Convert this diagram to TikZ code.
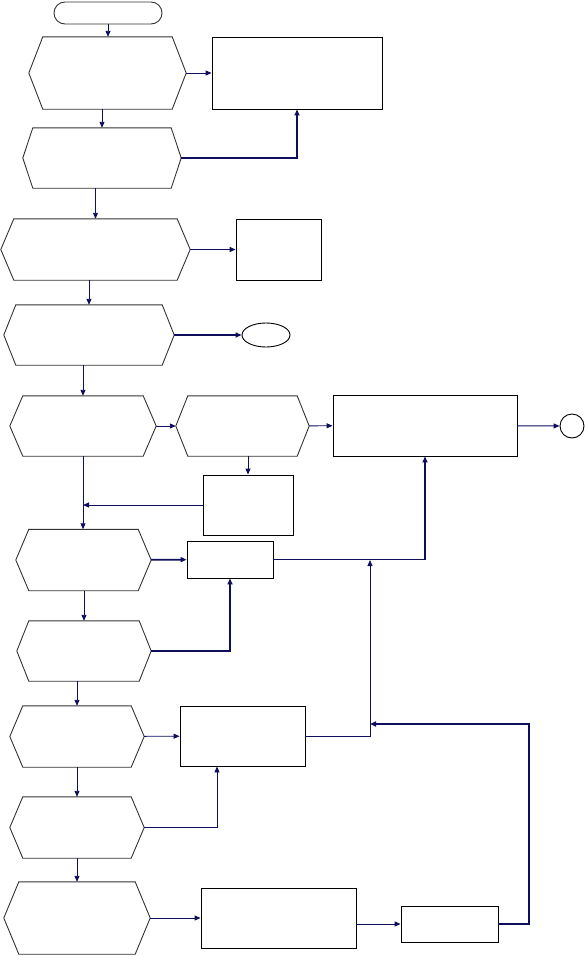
\documentclass[tikz,border=0pt]{standalone}
\usepackage{tikz}
\usetikzlibrary{arrows.meta,positioning,calc,shapes.geometric}
\definecolor{linknavy}{RGB}{14,14,92}

\begin{document}
\begin{tikzpicture}[
  x=1pt, y=-1pt,
  box/.style={draw=black, line width=0.9pt, minimum width=#1, inner sep=0pt},
  hexa/.style={minimum width=#1, inner sep=0pt},
  hexline/.style={draw=black!80, line width=0.9pt, line join=miter},
  arr/.style={-{Triangle[length=6pt,width=5pt]}, linknavy, line width=0.9pt},
  arrb/.style={arr, line width=1.7pt}]
\useasboundingbox (0,0) rectangle (585,956);
% left column
\node[draw=black!80, line width=0.9pt, rounded corners=11pt, minimum width=108pt, minimum height=22pt] (start) at (108,13) {};
\node[hexa=157pt, minimum height=72pt] (hex1) at (107.5,73) {};
\node[hexa=158pt, minimum height=60pt] (hex2) at (102,158) {};
\node[hexa=189pt, minimum height=61pt] (hex3) at (95.5,249.5) {};
\node[hexa=170pt, minimum height=60pt] (hex4) at (89,335) {};
\node[hexa=146pt, minimum height=60pt] (hex5) at (83,426) {};
\node[hexa=133pt, minimum height=60pt] (hex6) at (242.5,426) {};
\node[hexa=135pt, minimum height=61pt] (hex7) at (83.5,560) {};
\node[hexa=134pt, minimum height=60pt] (hex8) at (84,651) {};
\node[hexa=134pt, minimum height=61pt] (hex9) at (77,736.5) {};
\node[hexa=134pt, minimum height=61pt] (hex10) at (77,827.5) {};
\node[hexa=146pt, minimum height=72pt] (hex11) at (77,918) {};
\foreach \n/\d in {hex1/14,hex2/10,hex3/13,hex4/12,hex5/13,hex6/12,hex7/13,hex8/12,hex9/13,hex10/13,hex11/15}
  \draw[hexline] ([xshift=\d pt]\n.north west) -- ([xshift=-\d pt]\n.north east) -- (\n.east)
    -- ([xshift=-\d pt]\n.south east) -- ([xshift=\d pt]\n.south west) -- (\n.west) -- cycle;
% right side boxes
\node[box=170pt, minimum height=72pt] (rectA) at (297,73) {};
\node[box=85pt, minimum height=61pt] (rectB) at (278.5,249.5) {};
\node[draw=black, line width=0.9pt, ellipse, minimum width=48pt, minimum height=24pt, inner sep=0pt] (ell) at (266,335) {};
\node[box=184pt, minimum height=61pt] (rectC) at (425,425.5) {};
\node[draw=black, line width=0.9pt, circle, minimum size=24pt, inner sep=0pt] (circ) at (572,426) {};
\node[box=90pt, minimum height=60pt] (rectD) at (248,505) {};
\node[box=86pt, minimum height=37pt] (rectE) at (230,559.5) {};
\node[box=125pt, minimum height=60pt] (rectF) at (242.5,736) {};
\node[box=155pt, minimum height=60pt] (rectG) at (278.5,918) {};
\node[box=97pt, minimum height=36pt] (rectH) at (449.5,924) {};
\coordinate (join1) at (370,560);
\coordinate (join2) at (370,724);
\coordinate (back) at (529,724);
% connectors
\draw[arr] (start) -- (start|-hex1.north);
\draw[arr] (hex1) -- (rectA);
\draw[arr] (hex1.south-|hex2) -- (hex2.north);
\draw[arrb] (hex2.east) -| (rectA.south);
\draw[arr] (hex2.south-|hex3) -- (hex3.north);
\draw[arrb] (hex3) -- (rectB);
\draw[arr] (hex3.south-|hex4) -- (hex4.north);
\draw[arrb] (hex4) -- (ell);
\draw[arr] (hex4.south-|hex5) -- (hex5.north);
\draw[arr] (hex5) -- (hex6);
\draw[arr] (hex6) -- (rectC);
\draw[arr] (rectC) -- (circ);
\draw[arr] (hex6.south-|rectD) -- (rectD.north);
\draw[arr] (rectD.west) -- (rectD.west-|hex5);
\draw[arr] (hex5.south) -- (hex5.south|-hex7.north);
\draw[arrb] (hex7) -- (rectE);
\draw[arrb] (rectE.east) -| (rectC.south);
\draw[arr] (hex7.south-|hex8) -- (hex8.north);
\draw[arrb] (hex8.east) -| (rectE.south);
\draw[arr] (hex8.south-|hex9) -- (hex9.north);
\draw[arr] (hex9) -- (rectF);
\draw[arr] (rectF.east) -| (join1);
\draw[arr] (hex9.south) -- (hex10.north);
\draw[arr] (hex10.east) -| ([xshift=-25.5pt]rectF.south);
\draw[arr] (hex10.south) -- (hex11.north);
\draw[arr] (hex11) -- (rectG);
\draw[arr] (rectG.east|-rectH.west) -- (rectH.west);
\draw[arrb] (rectH.east) -| (back) -- (join2);
\end{tikzpicture}
\end{document}
